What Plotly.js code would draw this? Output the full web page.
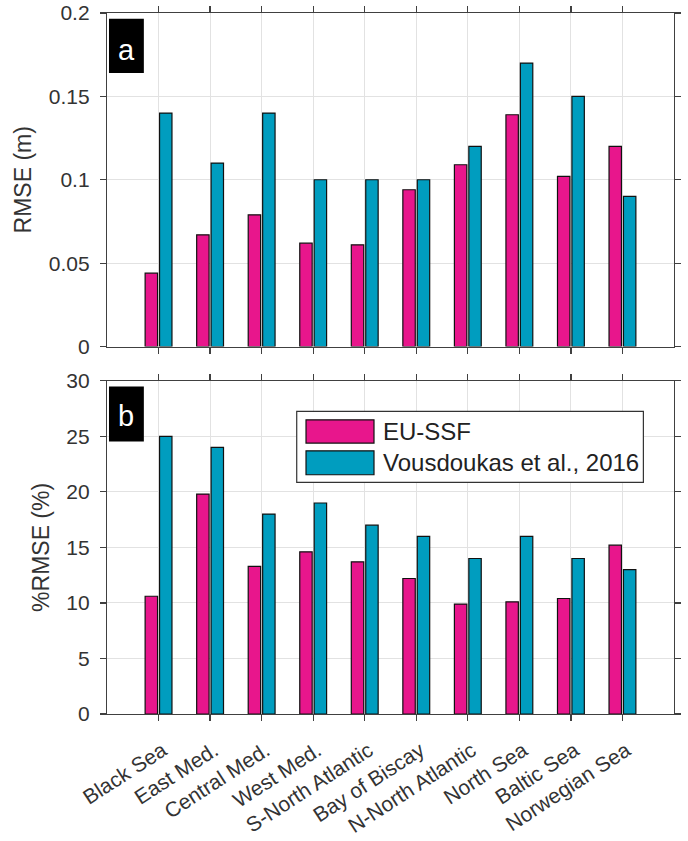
<!DOCTYPE html>
<html>
<head>
<meta charset="utf-8">
<script src="https://cdn.plot.ly/plotly-3.0.1.min.js"></script>
<style>
  html, body { margin: 0; padding: 0; background: #fff; }
  #chart { width: 688px; height: 841px; }
</style>
</head>
<body>
<div id="chart"></div>
<script>
// Regions along the x axis
const regions = ["Black Sea", "East Med.", "Central Med.", "West Med.", "S-North Atlantic",
                 "Bay of Biscay", "N-North Atlantic", "North Sea", "Baltic Sea", "Norwegian Sea"];
const regionPos = [1, 2, 3, 4, 5, 6, 7, 8, 9, 10];

// Panel a: RMSE (m)
const rmseEuSsf      = [0.044, 0.067, 0.079, 0.062, 0.061, 0.094, 0.109, 0.139, 0.102, 0.120];
const rmseVousdoukas = [0.140, 0.110, 0.140, 0.100, 0.100, 0.100, 0.120, 0.170, 0.150, 0.090];

// Panel b: %RMSE (%)
const prmseEuSsf      = [10.6, 19.8, 13.3, 14.6, 13.7, 12.2, 9.9, 10.1, 10.4, 15.2];
const prmseVousdoukas = [25, 24, 18, 19, 17, 16, 14, 16, 14, 13];

const seriesNames = ["EU-SSF", "Vousdoukas et al., 2016"];
const seriesColors = ["#E8168C", "#009DBF"];

const yTicksA = [0, 0.05, 0.1, 0.15, 0.2];
const yTickTextA = ["0", "0.05", "0.1", "0.15", "0.2"];
const yTicksB = [0, 5, 10, 15, 20, 25, 30];

const FONT = "Liberation Sans, Arial, Helvetica, sans-serif";
const TEXT = "#333333";
const AXIS = "#404040";
const GRID = "#e2e2e2";

function barTrace(y, i, xa, ya) {
  return {
    type: "bar", x: regionPos, y: y, xaxis: xa, yaxis: ya,
    name: seriesNames[i], showlegend: false,
    marker: { color: seriesColors[i], line: { color: "#111", width: 1.2 } },
    hoverinfo: "y"
  };
}

const traces = [
  barTrace(rmseEuSsf, 0, "x", "y"),
  barTrace(rmseVousdoukas, 1, "x", "y"),
  barTrace(prmseEuSsf, 0, "x2", "y2"),
  barTrace(prmseVousdoukas, 1, "x2", "y2")
];

const baseX = {
  range: [0, 11], tickvals: regionPos, ticktext: regions,
  showline: true, linecolor: AXIS, linewidth: 1.2, mirror: "ticks",
  ticks: "outside", ticklen: 6, tickcolor: AXIS, tickwidth: 1.2,
  showgrid: true, gridcolor: GRID, gridwidth: 1, zeroline: false,
  tickfont: { family: FONT, size: 21, color: TEXT }, fixedrange: true
};
const baseY = {
  showline: true, linecolor: AXIS, linewidth: 1.2, mirror: "ticks",
  ticks: "outside", ticklen: 6, tickcolor: AXIS, tickwidth: 1.2,
  showgrid: true, gridcolor: GRID, gridwidth: 1, zeroline: false,
  ticklabelstandoff: 6,
  tickfont: { family: FONT, size: 21, color: TEXT }, fixedrange: true
};

// Legend drawn in the lower panel's domain coordinates
const leg = { x0: 0.3346, x1: 0.946, y0: 0.695, y1: 0.908 };
const legPatch = [ { y0: 0.813, y1: 0.883 }, { y0: 0.718, y1: 0.790 } ];

const shapes = [
  // panel tags
  { type: "rect", xref: "x domain", yref: "y domain", x0: 0.0035, x1: 0.065, y0: 0.82, y1: 0.983,
    fillcolor: "#000", line: { width: 0 } },
  { type: "rect", xref: "x2 domain", yref: "y2 domain", x0: 0.0035, x1: 0.065, y0: 0.818, y1: 0.983,
    fillcolor: "#000", line: { width: 0 } },
  // legend frame
  { type: "rect", xref: "x2 domain", yref: "y2 domain", x0: leg.x0, x1: leg.x1, y0: leg.y0, y1: leg.y1,
    fillcolor: "#fff", line: { color: "#333", width: 1.2 } }
];
legPatch.forEach((p, i) => shapes.push({
  type: "rect", xref: "x2 domain", yref: "y2 domain", x0: 0.351, x1: 0.4709, y0: p.y0, y1: p.y1,
  fillcolor: seriesColors[i], line: { color: "#111", width: 1.2 }
}));

const annotations = [
  { xref: "x domain", yref: "y domain", x: 0.034, y: 0.89, text: "a", showarrow: false,
    font: { family: FONT, size: 29, color: "#fff" }, xanchor: "center", yanchor: "middle" },
  { xref: "x2 domain", yref: "y2 domain", x: 0.034, y: 0.895, text: "b", showarrow: false,
    font: { family: FONT, size: 29, color: "#fff" }, xanchor: "center", yanchor: "middle" }
];
legPatch.forEach((p, i) => annotations.push({
  xref: "x2 domain", yref: "y2 domain", x: 0.4832, y: (p.y0 + p.y1) / 2, text: seriesNames[i],
  showarrow: false, xanchor: "left", yanchor: "middle",
  font: { family: FONT, size: 24, color: "#222" }
}));

const layout = {
  width: 688, height: 841,
  margin: { l: 107, r: 14, t: 13, b: 127 },
  paper_bgcolor: "#fff", plot_bgcolor: "#fff",
  barmode: "group", bargap: 0.44, bargroupgap: 0.14,
  showlegend: false,
  font: { family: FONT, color: TEXT },
  xaxis: Object.assign({}, baseX, { anchor: "y", showticklabels: false }),
  yaxis: Object.assign({}, baseY, {
    domain: [0.5242, 1], anchor: "x", range: [0, 0.2],
    tickvals: yTicksA, ticktext: yTickTextA,
    title: { text: "RMSE (m)", font: { family: FONT, size: 23, color: TEXT }, standoff: 10 }
  }),
  xaxis2: Object.assign({}, baseX, { anchor: "y2", tickangle: -33, ticklabelstandoff: 9, ticklabelshift: 4 }),
  yaxis2: Object.assign({}, baseY, {
    domain: [0, 0.4753], anchor: "x2", range: [0, 30], tickvals: yTicksB,
    title: { text: "%RMSE (%)", font: { family: FONT, size: 23, color: TEXT }, standoff: 10 }
  }),
  shapes: shapes,
  annotations: annotations
};

Plotly.newPlot("chart", traces, layout, { displayModeBar: false, staticPlot: true });
</script>
</body>
</html>
